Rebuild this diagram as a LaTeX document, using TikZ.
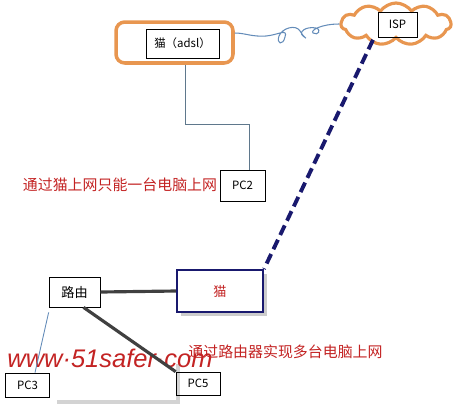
\documentclass[tikz,border=0pt]{standalone}
\usepackage{fontspec}
\setmainfont{Noto Sans CJK SC}
\newfontfamily\wmfont{Liberation Sans}
\usepackage{tikz}
\usetikzlibrary{positioning,shapes.symbols,shadows}

\definecolor{frameorange}{RGB}{232,150,80}
\definecolor{wireblue}{RGB}{100,140,185}
\definecolor{linkgray}{RGB}{95,120,140}
\definecolor{navyline}{RGB}{25,25,110}
\definecolor{textred}{RGB}{195,35,35}

\begin{document}
\begin{tikzpicture}[x=0.02cm,y=-0.02cm,
	pcbox/.style={rectangle,draw,inner sep=0pt,font=\fontsize{6.5}{7}\selectfont},
	notetext/.style={text=textred,inner sep=0pt,font=\fontsize{8.5}{9}\selectfont},
	thinlink/.style={draw=linkgray,line width=0.5pt},
	heavylink/.style={draw=black!75,line width=1.8pt}]
	
	\useasboundingbox (0,0) rectangle (475,413);
	
	% top: adsl modem and ISP
	\node [rectangle,draw=frameorange,line width=2pt,rounded corners=5pt,minimum width=2.34cm,minimum height=0.82cm] (frame) at (174.5, 42.5) {};
	\node [pcbox,minimum width=1.46cm,minimum height=0.58cm] (adsl) at (182.5, 43.5) {猫（adsl）};
	\node [cloud,cloud puffs=11,cloud puff arc=110,aspect=2.6,draw=frameorange,line width=1.8pt,inner sep=0pt,minimum width=2.2cm,minimum height=0.84cm] (cloud) at (396, 24) {};
	\node [pcbox,minimum width=0.78cm,minimum height=0.5cm] (isp) at (397.5, 24.5) {ISP};
	\node [pcbox,minimum width=0.9cm,minimum height=0.62cm] (pc2) at (242.5, 185.5) {PC2};
	\node [notetext] (note1) at (120, 185) {通过猫上网只能一台电脑上网};
	
	\coordinate (elbow) at (185, 124);
	
	\draw [wireblue,line width=0.6pt] ([yshift=0.19cm]frame.east) .. controls (245,33) and (252,37) .. (266,36)
		.. controls (278,35) and (288,28) .. (285,37) .. controls (283,46) and (276,44) .. (279,36)
		.. controls (282,28) and (296,24) .. (300,31) .. controls (303,37) and (310,41) .. (303,36)
		.. controls (298,32) and (306,26) .. (316,28) .. controls (322,30) and (318,36) .. (313,33)
		.. controls (310,30) and (322,24) .. (cloud.west);
	\draw [thinlink] (elbow |- frame.south) -- (elbow) -| ([xshift=0.13cm]pc2.north);
	
	% bottom: router, modem, pcs
	\node [rectangle,fill=white,minimum width=2.46cm,minimum height=0.8cm,drop shadow={shadow xshift=2pt,shadow yshift=-2pt,opacity=0.35}] (wmback) at (114.5, 380) {};
	\node [pcbox,font=\fontsize{7.5}{8}\selectfont,minimum width=1.02cm,minimum height=0.6cm] (router) at (74.5, 292) {路由};
	\node [rectangle,draw=navyline,line width=1.2pt,fill=white,text=textred,font=\fontsize{7.5}{8}\selectfont,minimum width=1.72cm,minimum height=0.84cm,drop shadow={shadow xshift=2pt,shadow yshift=-2pt,opacity=0.4}] (modem) at (220, 291) {猫};
	\node [pcbox,minimum width=0.88cm,minimum height=0.48cm] (pc3) at (27.5, 385) {PC3};
	\node [pcbox,minimum width=0.88cm,minimum height=0.46cm] (pc5) at (198, 383.5) {PC5};
	\node [notetext] (note2) at (285.5, 352) {通过路由器实现多台电脑上网};
	\node [text=textred,inner sep=0pt,font=\wmfont\itshape\fontsize{14.5}{15}\selectfont] (wmark) at (110, 358) {www·51safer·com};
	
	\draw [navyline,line width=2.2pt,dash pattern=on 6pt off 3pt] (cloud.south) ++(-0.46cm,0) -- (modem.north east);
	\draw [heavylink] (router.east) -- (modem.west);
	\draw [heavylink] ([xshift=0.18cm]router.south) -- (pc5.north west);
	\draw [thinlink,draw=wireblue] ([yshift=-0.1cm]router.south west) -- ([xshift=0.15cm]pc3.north);

\end{tikzpicture}
\end{document}
